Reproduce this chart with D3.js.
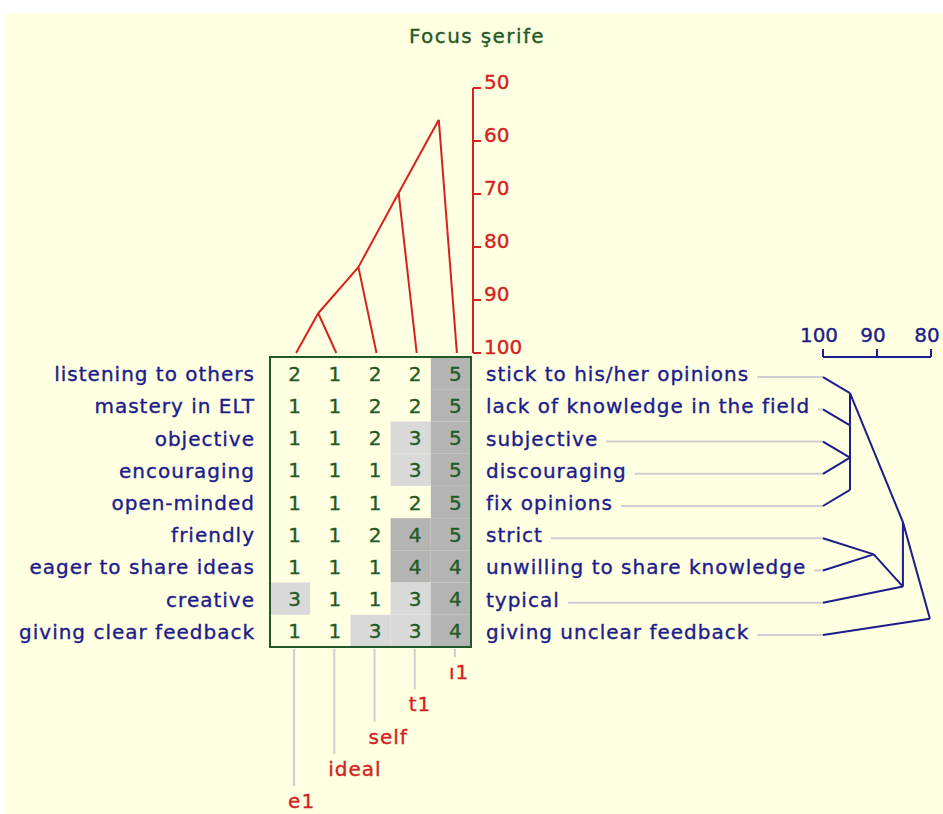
<!DOCTYPE html>
<html>
<head>
<meta charset="utf-8">
<script src="https://cdn.jsdelivr.net/npm/d3@7"></script>
<style>
  body { margin: 0; background: #ffffff; }
  svg text { font-family: "DejaVu Sans", sans-serif; font-size: 20px; letter-spacing: 1px; stroke-width: 0.35px; }
</style>
</head>
<body>
<div id="chart"></div>
<script>
// grid title
var title = "Focus şerife";

// elements (columns) and constructs (rows)
var elements = ["e1", "ideal", "self", "t1", "ı1"];
var leftPoles = ["listening to others", "mastery in ELT", "objective", "encouraging",
  "open-minded", "friendly", "eager to share ideas", "creative", "giving clear feedback"];
var rightPoles = ["stick to his/her opinions", "lack of knowledge in the field", "subjective",
  "discouraging", "fix opinions", "strict", "unwilling to share knowledge", "typical",
  "giving unclear feedback"];

// ratings, one row per construct
var ratings = [
  [2, 1, 2, 2, 5],
  [1, 1, 2, 2, 5],
  [1, 1, 2, 3, 5],
  [1, 1, 1, 3, 5],
  [1, 1, 1, 2, 5],
  [1, 1, 2, 4, 5],
  [1, 1, 1, 4, 4],
  [3, 1, 1, 3, 4],
  [1, 1, 3, 3, 4]
];

// cluster merges: [upper group, lower group, similarity %]
var elementMerges = [["L0", "L1", 92.5], ["M0", "L2", 83.8], ["M1", "L3", 69.8], ["M2", "L4", 56]];
var constructMerges = [["L2", "L3", 95], ["M0", "L4", 95], ["L1", "M1", 95], ["L0", "M2", 95],
  ["L5", "L6", 90.6], ["M4", "L7", 85.2], ["M3", "M5", 85.2], ["M6", "L8", 80.2]];

// scale ticks
var elementTicks = [50, 60, 70, 80, 90, 100];
var constructTicks = [100, 90, 80];

var W = 943, H = 814;
var red = "#d42222", blue = "#1c1c8c", green = "#1f5a26";

var svg = d3.select("#chart").append("svg")
  .attr("width", W)
  .attr("height", H);

svg.append("rect")
  .attr("x", 6).attr("y", 13)
  .attr("width", W - 6).attr("height", H - 13)
  .attr("fill", "#ffffe1");

svg.append("text")
  .attr("x", 477).attr("y", 43)
  .attr("text-anchor", "middle")
  .attr("fill", green).attr("stroke", green)
  .style("letter-spacing", "1.4px")
  .text(title);

// scales
var colBand = d3.scaleBand().domain(d3.range(elements.length)).range([270, 471]);
var rowBand = d3.scaleBand().domain(d3.range(leftPoles.length)).range([357, 647]);
var colPos = d3.scaleLinear().domain([0, elements.length - 1])
  .range([colBand(0) + colBand.bandwidth() / 2 + 6, colBand(elements.length - 1) + colBand.bandwidth() / 2 + 6]);
var rowPos = d3.scaleLinear().domain([0, leftPoles.length - 1])
  .range([rowBand(0) + rowBand.bandwidth() / 2 + 4, rowBand(leftPoles.length - 1) + rowBand.bandwidth() / 2 + 4]);
var yTop = d3.scaleLinear().domain([50, 100]).range([88, 353]);
var xRight = d3.scaleLinear().domain([100, 80]).range([823, 931]);

var shade = function(v) {
  if (v >= 4) return "#b4b4b4";
  if (v == 3) return "#d9d9d9";
  return "none";
}

// grid cells
var cells = [];
ratings.forEach(function(row, r) {
  row.forEach(function(v, c) { cells.push({r: r, c: c, v: v}); });
});

svg.selectAll(".cell")
  .data(cells)
  .enter()
  .append("rect")
    .attr("class", "cell")
    .attr("x", function(d) { return colBand(d.c); })
    .attr("y", function(d) { return rowBand(d.r); })
    .attr("width", colBand.bandwidth())
    .attr("height", rowBand.bandwidth())
    .attr("fill", function(d) { return shade(d.v); });

svg.selectAll(".val")
  .data(cells)
  .enter()
  .append("text")
    .attr("class", "val")
    .attr("x", function(d) { return colPos(d.c) - 1; })
    .attr("y", function(d) { return rowBand(d.r) + rowBand.bandwidth() / 2 + 7.5; })
    .attr("text-anchor", "middle")
    .attr("fill", green).attr("stroke", green)
    .text(function(d) { return d.v; });

svg.append("rect")
  .attr("x", 270).attr("y", 357)
  .attr("width", 201).attr("height", 290)
  .attr("fill", "none")
  .attr("stroke", green)
  .attr("stroke-width", 2);

// left poles
svg.selectAll(".lpole")
  .data(leftPoles)
  .enter()
  .append("text")
    .attr("x", 255)
    .attr("y", function(d, i) { return rowBand(i) + rowBand.bandwidth() / 2 + 8; })
    .attr("text-anchor", "end")
    .attr("fill", blue).attr("stroke", blue)
    .text(function(d) { return d; });

// right poles with connector lines
var rp = svg.selectAll(".rpole")
  .data(rightPoles)
  .enter()
  .append("text")
    .attr("class", "rpole")
    .attr("x", 486)
    .attr("y", function(d, i) { return rowBand(i) + rowBand.bandwidth() / 2 + 8; })
    .attr("fill", blue).attr("stroke", blue)
    .text(function(d) { return d; });

rp.each(function(d, i) {
  var len = this.getComputedTextLength();
  svg.append("line")
    .attr("x1", 486 + len + 8).attr("x2", xRight(100))
    .attr("y1", rowPos(i)).attr("y2", rowPos(i))
    .attr("stroke", "#cdcdd4")
    .attr("stroke-width", 2);
});

// element labels under the grid
elements.forEach(function(e, i) {
  var base = 647 + rowBand.step() * (elements.length - i);
  svg.append("line")
    .attr("x1", colPos(i) - 2).attr("x2", colPos(i) - 2)
    .attr("y1", 649).attr("y2", base - 22)
    .attr("stroke", "#cdcdd4")
    .attr("stroke-width", 2);
  svg.append("text")
    .attr("x", colPos(i) - 8)
    .attr("y", base)
    .attr("fill", red).attr("stroke", red)
    .text(e);
});

// cluster layout: node point of a group is its last merge point
function layout(merges, n) {
  var groups = {};
  for (var i = 0; i < n; i++) groups["L" + i] = {lo: i, hi: i, level: 100, pos: i};
  var links = [];
  merges.forEach(function(m, k) {
    var a = groups[m[0]], b = groups[m[1]];
    var node = {lo: Math.min(a.lo, b.lo), hi: Math.max(a.hi, b.hi), level: m[2],
      pos: (Math.min(a.hi, b.hi) + Math.max(a.lo, b.lo)) / 2};
    links.push([a, node], [b, node]);
    groups["M" + k] = node;
  });
  return links;
}

// element tree (top, red)
svg.selectAll(".elink")
  .data(layout(elementMerges, elements.length))
  .enter()
  .append("line")
    .attr("x1", function(d) { return colPos(d[0].pos) + (d[0].level < 100 ? 2 : 0); })
    .attr("y1", function(d) { return yTop(d[0].level); })
    .attr("x2", function(d) { return colPos(d[1].pos) + 2; })
    .attr("y2", function(d) { return yTop(d[1].level); })
    .attr("stroke", red)
    .attr("stroke-width", 2);

var axisTop = svg.append("g").attr("transform", "translate(473,0)");
axisTop.append("line")
  .attr("y1", yTop(50)).attr("y2", yTop(100))
  .attr("stroke", red).attr("stroke-width", 2);
axisTop.selectAll(".tk")
  .data(elementTicks)
  .enter()
  .append("line")
    .attr("x1", 0).attr("x2", 8)
    .attr("y1", function(d) { return yTop(d); })
    .attr("y2", function(d) { return yTop(d); })
    .attr("stroke", red).attr("stroke-width", 2);
axisTop.selectAll(".tl")
  .data(elementTicks)
  .enter()
  .append("text")
    .attr("x", 11)
    .attr("y", function(d) { return yTop(d) + 1; })
    .attr("fill", red).attr("stroke", red)
    .style("letter-spacing", "0px")
    .text(function(d) { return d; });

// construct tree (right, blue)
svg.selectAll(".clink")
  .data(layout(constructMerges, leftPoles.length))
  .enter()
  .append("line")
    .attr("x1", function(d) { return xRight(d[0].level); })
    .attr("y1", function(d) { return rowPos(d[0].pos); })
    .attr("x2", function(d) { return xRight(d[1].level); })
    .attr("y2", function(d) { return rowPos(d[1].pos); })
    .attr("stroke", blue)
    .attr("stroke-width", 2);

var axisRight = svg.append("g").attr("transform", "translate(0,357)");
axisRight.append("line")
  .attr("x1", xRight(100)).attr("x2", xRight(80))
  .attr("stroke", blue).attr("stroke-width", 2);
axisRight.selectAll(".tk")
  .data(constructTicks)
  .enter()
  .append("line")
    .attr("x1", function(d) { return xRight(d); })
    .attr("x2", function(d) { return xRight(d); })
    .attr("y1", 0).attr("y2", -8)
    .attr("stroke", blue).attr("stroke-width", 2);
axisRight.selectAll(".tl")
  .data(constructTicks)
  .enter()
  .append("text")
    .attr("x", function(d) { return xRight(d) - 4; })
    .attr("y", -15)
    .attr("text-anchor", "middle")
    .attr("fill", blue).attr("stroke", blue)
    .style("letter-spacing", "0px")
    .text(function(d) { return d; });
</script>
</body>
</html>
